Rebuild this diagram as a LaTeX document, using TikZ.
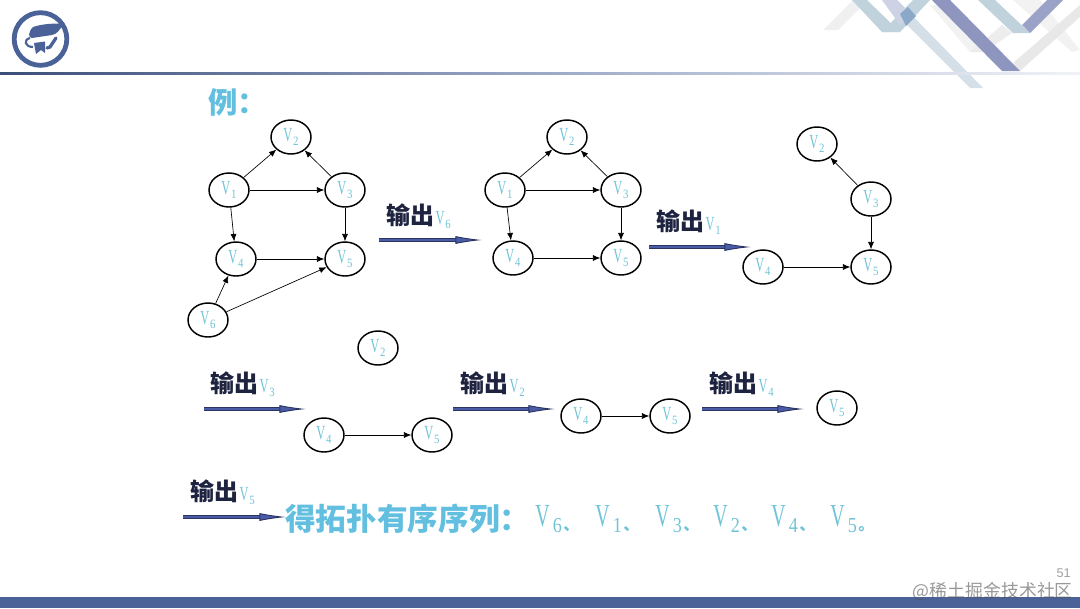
\documentclass[tikz,border=0pt]{standalone}
\usepackage{fontspec}
\usetikzlibrary{arrows.meta,shapes.geometric}
\setmainfont{Liberation Sans}
\newfontfamily\cjk{Noto Sans CJK SC}
\newfontfamily\vfont[FakeStretch=0.62]{Liberation Serif}
\newfontfamily\dfont[FakeStretch=0.85]{Liberation Serif}
\definecolor{barblue}{HTML}{4A6298}
\definecolor{sky}{HTML}{62BFE0}
\definecolor{vcol}{HTML}{70C4D8}
\definecolor{navy}{HTML}{1E2440}
\definecolor{arrowblue}{HTML}{4A5CA8}
\definecolor{ra}{HTML}{D0DBE4}
\definecolor{rb}{HTML}{C0D3DD}
\definecolor{rc}{HTML}{CDD2E4}
\definecolor{rd}{HTML}{8CA8C8}
\definecolor{re}{HTML}{8E96C0}
\definecolor{rf}{HTML}{C0D2DC}
\definecolor{rg}{HTML}{9AA2C8}
\newcommand{\Vn}[1]{{\fontsize{15pt}{15pt}\vfont\textcolor{vcol}{V\hspace{0.6pt}\raisebox{-3.2pt}{\dfont\fontsize{9.5pt}{9.5pt}\selectfont #1}}}}
\newcommand{\Vc}[1]{\raisebox{1.3pt}{\Vn{#1}}}
\newcommand{\Out}[1]{{\cjk\bfseries\fontsize{18pt}{18pt}\selectfont\textcolor{navy}{输出}}\hspace{1pt}\Vn{#1}}
\tikzset{
  vert/.style={draw=black,line width=1.1pt,ellipse,minimum width=30pt,minimum height=25.5pt,inner sep=0pt,fill=white},
  edge/.style={-{Latex[length=5.5pt,width=4.5pt]},line width=0.5pt,black},
  bigarrow/.style={draw=navy!70!arrowblue,line width=0.7pt,double=arrowblue,double distance=1.3pt,
     -{Latex[length=20pt,width=6pt,fill=arrowblue]}},
  lab/.style={inner sep=0pt,anchor=west}
}
\begin{document}
\begin{tikzpicture}[x=0.75pt,y=-0.75pt]
\useasboundingbox (0,0) rectangle (1080,608);
% ribbon decoration
\begin{scope}
\clip (0,0) rectangle (1080,90);
\fill[gray!12] (823,30) -- (853,0) -- (868,0) -- (838,30) -- cycle;
\fill[gray!10] (930,5) -- (945,5) -- (985,52) -- (970,52) -- cycle;
\fill[gray!10] (1013,0) -- (1040,0) -- (1080,50) -- (1072,52) -- cycle;
\fill[gray!14] (970,52) -- (1002,25) -- (1012,33) -- (985,52) -- cycle;
\fill[gray!18] (1013,63) -- (1080,5) -- (1080,17) -- (1020,71) -- cycle;
\fill[ra,opacity=.9] (882,0) -- (897,0) -- (983,88) -- (970,88) -- cycle;
\fill[rb] (852,0) -- (867,0) -- (900,32) -- (882,32) -- cycle;
\fill[rb] (882,32) -- (900,32) -- (930,0) -- (913,0) -- cycle;
\fill[rc] (882,0) -- (897,0) -- (912,15) -- (900,25) -- cycle;
\fill[rd] (900,14) -- (908,7) -- (916,16) -- (906,26) -- cycle;
\fill[re] (932,0) -- (950,0) -- (1020,71) -- (1002,71) -- cycle;
\fill[rf] (978,0) -- (995,0) -- (1030,33) -- (1013,33) -- cycle;
\fill[rg] (1022,25) -- (1030,33) -- (1063,0) -- (1047,0) -- cycle;
\end{scope}
% header line and bottom bar
\shade[left color=barblue!80!black,right color=barblue!8,middle color=barblue!55] (0,72) rectangle (1080,74.5);
\fill[barblue] (0,597) rectangle (1080,608);
% logo
\node[circle,draw=barblue,line width=3.6pt,minimum width=39.5pt,inner sep=0pt] (logo) at (40.5,39) {};
\fill[barblue] (33,27) .. controls (42,24) and (54,23) .. (63,24) .. controls (60,30) and (57,34) .. (52,35) -- (32,38) .. controls (28,38) and (28,32) .. (33,27) -- cycle;
\draw[barblue,line width=1.6pt] (30,38) .. controls (23,40) and (25,47) .. (33,47);
\fill[barblue] (34,43) -- (45,41.5) -- (45,53) -- (41,50) -- (36,54) -- cycle;
\draw[barblue,line width=2.4pt,line cap=round] (47,48) -- (50,47) -- (56,38);
% titles
\node[lab,text=sky] (t) at (208,102) {{\cjk\bfseries\fontsize{22pt}{24pt}\selectfont 例：}};
% graph 1
\node[vert] (a2) at (291,137) {\Vc{2}};
\node[vert] (a1) at (229,190) {\Vc{1}};
\node[vert] (a3) at (345,190) {\Vc{3}};
\node[vert] (a4) at (236,259) {\Vc{4}};
\node[vert] (a5) at (345,259) {\Vc{5}};
\node[vert] (a6) at (208,320) {\Vc{6}};
\draw[edge] (a1) -- (a2);
\draw[edge] (a3) -- (a2);
\draw[edge] (a1) -- (a3);
\draw[edge] (a1) -- (a4);
\draw[edge] (a3) -- (a5);
\draw[edge] (a4) -- (a5);
\draw[edge] (a6) -- (a4);
\draw[edge] (a6) -- (a5);
% graph 2
\node[vert] (b2) at (567,137) {\Vc{2}};
\node[vert] (b1) at (505,190) {\Vc{1}};
\node[vert] (b3) at (621,190) {\Vc{3}};
\node[vert] (b4) at (513,258) {\Vc{4}};
\node[vert] (b5) at (621,258) {\Vc{5}};
\draw[edge] (b1) -- (b2);
\draw[edge] (b3) -- (b2);
\draw[edge] (b1) -- (b3);
\draw[edge] (b1) -- (b4);
\draw[edge] (b3) -- (b5);
\draw[edge] (b4) -- (b5);
% graph 3
\node[vert] (c2) at (817,144) {\Vc{2}};
\node[vert] (c3) at (871,199) {\Vc{3}};
\node[vert] (c4) at (763,267) {\Vc{4}};
\node[vert] (c5) at (871,267) {\Vc{5}};
\draw[edge] (c3) -- (c2);
\draw[edge] (c3) -- (c5);
\draw[edge] (c4) -- (c5);
% graph 4
\node[vert] (d2) at (378,348) {\Vc{2}};
\node[vert] (d4) at (324,435) {\Vc{4}};
\node[vert] (d5) at (432,435) {\Vc{5}};
\draw[edge] (d4) -- (d5);
% graph 5
\node[vert] (e4) at (581,416) {\Vc{4}};
\node[vert] (e5) at (670,416) {\Vc{5}};
\draw[edge] (e4) -- (e5);
% graph 6
\node[vert] (f5) at (837,408) {\Vc{5}};
% step arrows
\coordinate (p1s) at (379,240); \coordinate (p1e) at (482,240);
\coordinate (p2s) at (649,247); \coordinate (p2e) at (751,247);
\coordinate (p3s) at (204,409); \coordinate (p3e) at (306,409);
\coordinate (p4s) at (453,409); \coordinate (p4e) at (555,409);
\coordinate (p5s) at (702,409); \coordinate (p5e) at (804,409);
\coordinate (p6s) at (183,517); \coordinate (p6e) at (286,517);
\foreach \i in {1,...,6} \draw[bigarrow] (p\i s) -- (p\i e);
\node[lab] (l1) at (386,216) {\Out{6}};
\node[lab] (l2) at (656,222) {\Out{1}};
\node[lab] (l3) at (210,384) {\Out{3}};
\node[lab] (l4) at (460,384) {\Out{2}};
\node[lab] (l5) at (709,384) {\Out{4}};
\node[lab] (l6) at (190,492) {\Out{5}};
% result
\node[lab,text=sky] (r) at (285,519) {{\cjk\bfseries\fontsize{23pt}{25pt}\selectfont 得拓扑有序序列：}};
\foreach \x/\n/\p in {535/6/、,595/1/、,655/3/、,713/2/、,771/4/、,830/5/。}
  \node[lab] at (\x,519) {{\fontsize{24pt}{24pt}\vfont\textcolor{vcol}{V\hspace{2.5pt}\raisebox{-5pt}{\dfont\fontsize{16pt}{16pt}\selectfont\n}}\hspace{1pt}\raisebox{-3pt}{\cjk\bfseries\fontsize{12pt}{12pt}\selectfont\textcolor{vcol}{\p}}}};
% page number + watermark
\node[inner sep=0pt,anchor=east,text=gray!75] (pg) at (1071,573) {\fontsize{9.5pt}{10pt}\selectfont 51};
\node[inner sep=0pt,anchor=east,text=gray!65!black,opacity=.6] (wm) at (1073,591) {{\cjk\fontsize{13.4pt}{15pt}\selectfont @稀土掘金技术社区}};
\end{tikzpicture}
\end{document}
